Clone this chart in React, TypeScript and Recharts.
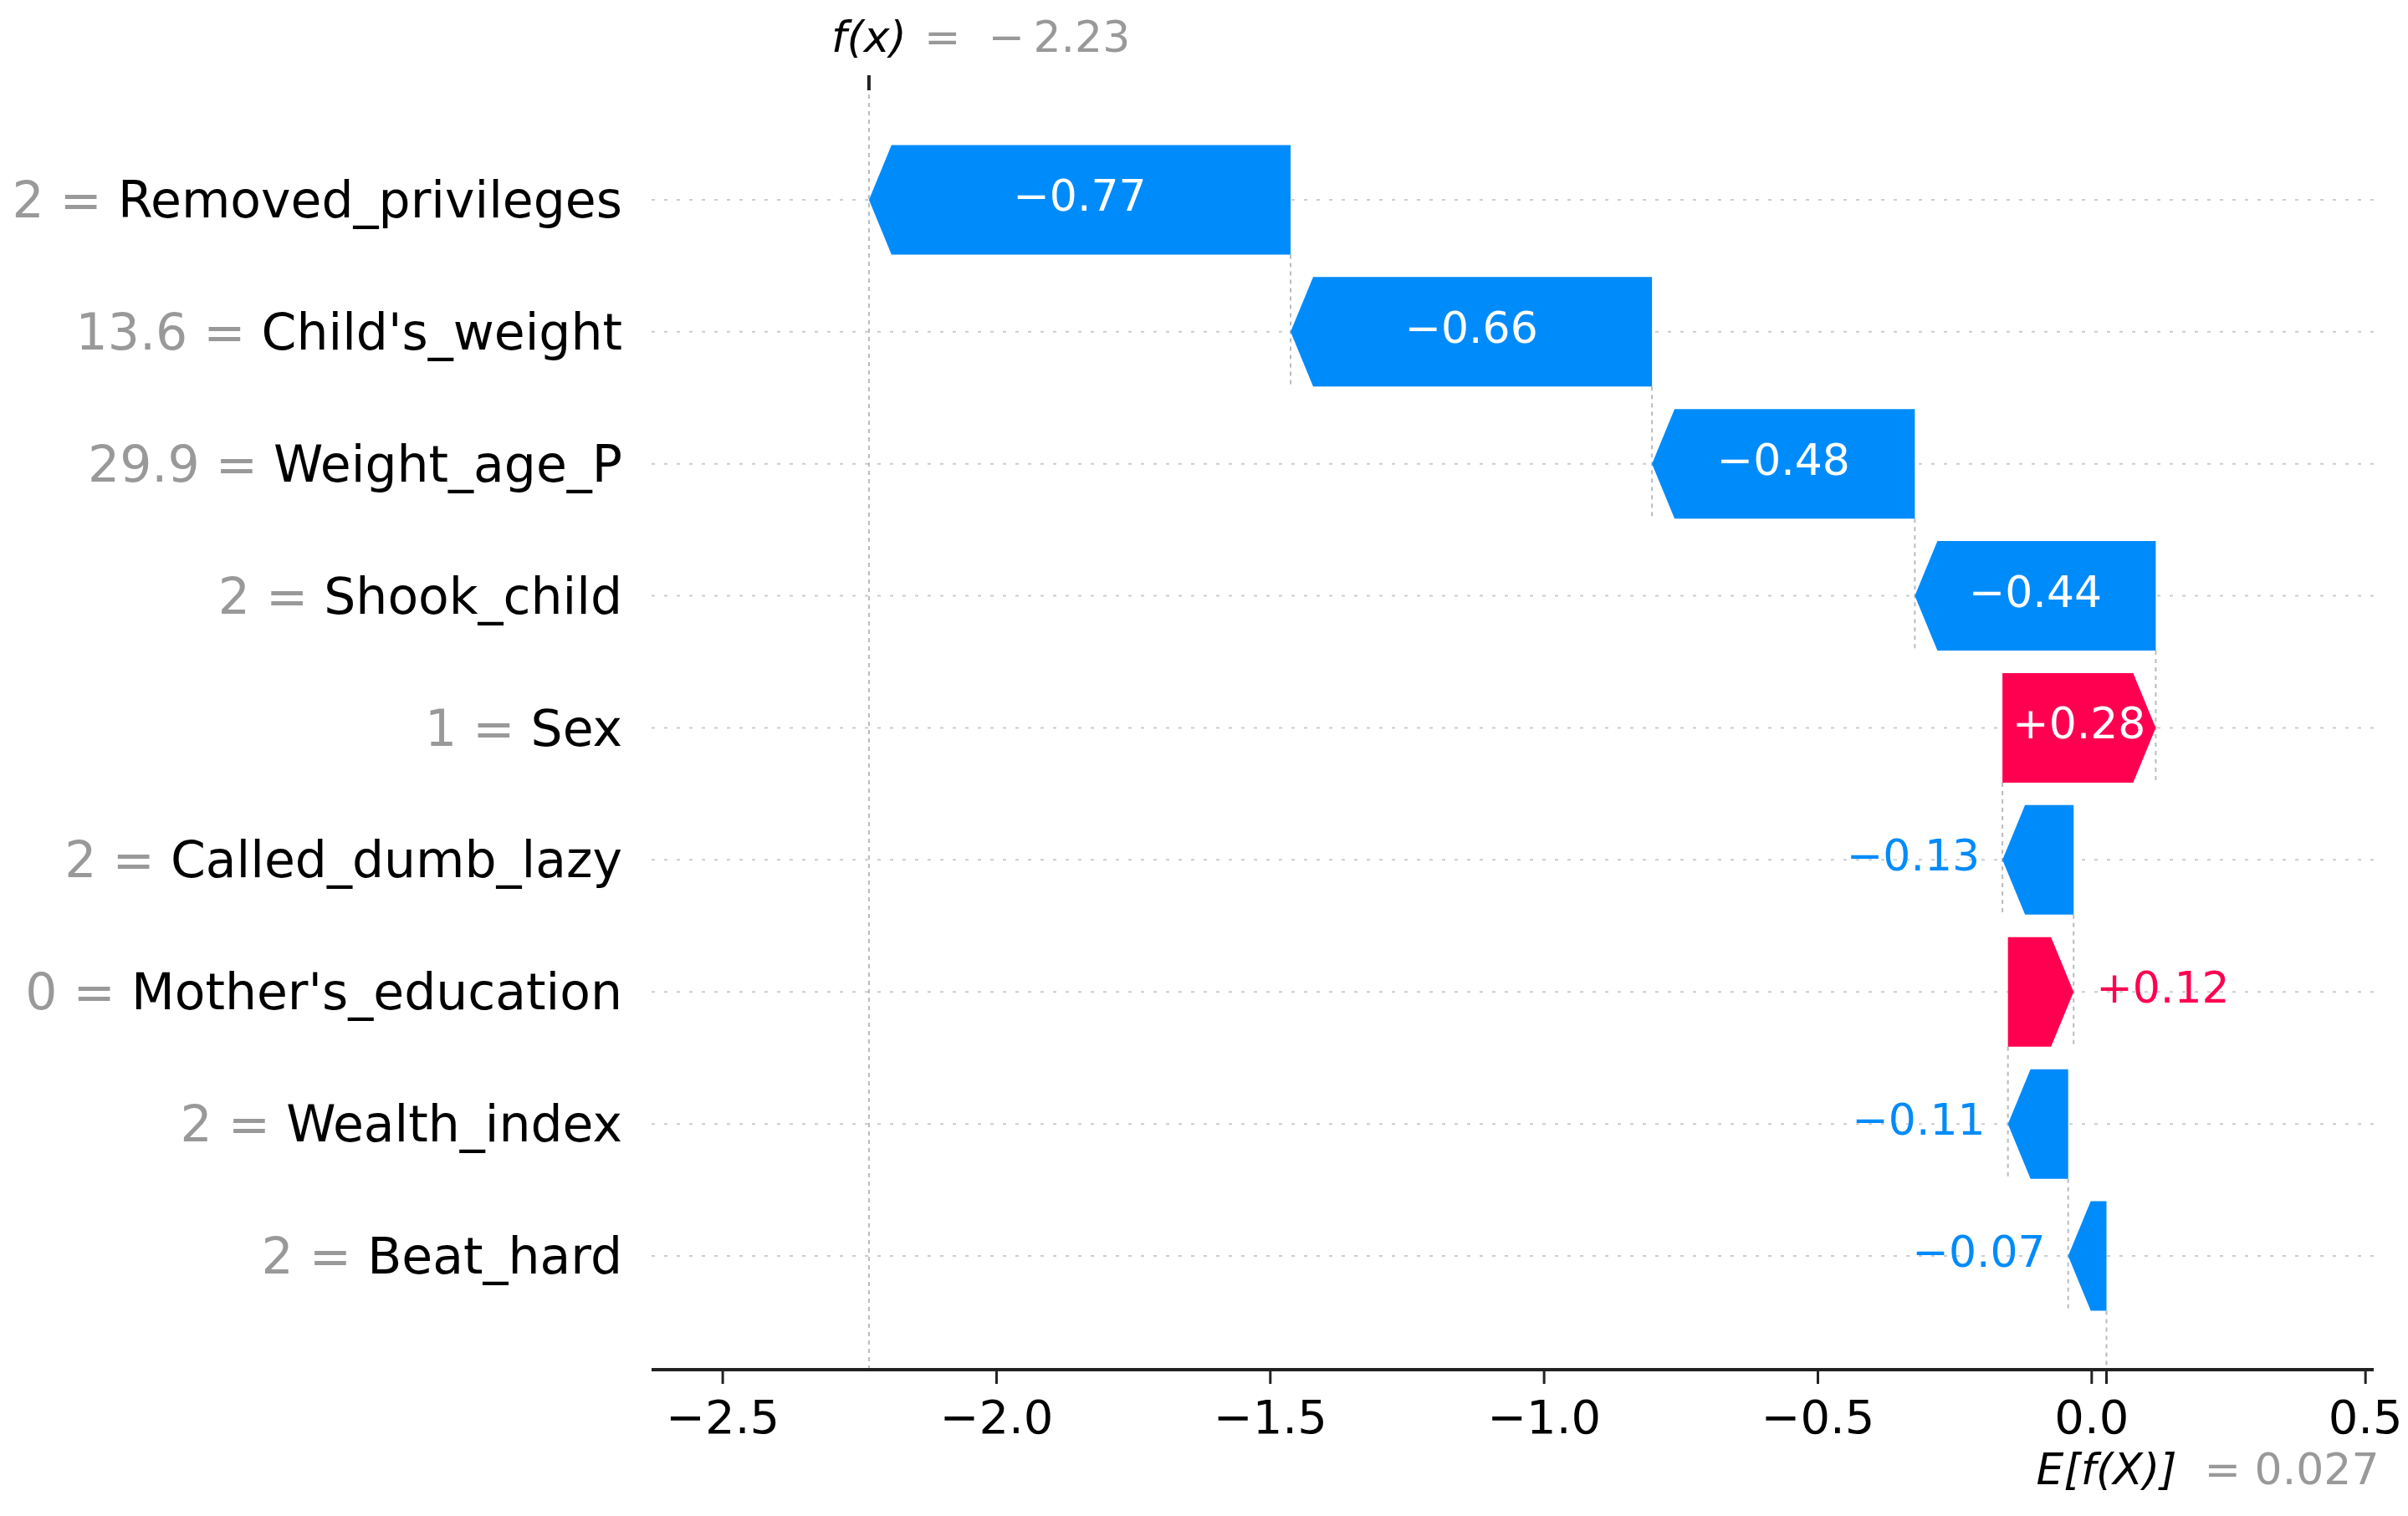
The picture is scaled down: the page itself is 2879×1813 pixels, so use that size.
import React from 'react';
import { ComposedChart, Bar, XAxis, YAxis, ReferenceLine } from 'recharts';

// SHAP waterfall: features listed top to bottom
const features = [
  'Removed_privileges',
  "Child's_weight",
  'Weight_age_P',
  'Shook_child',
  'Sex',
  'Called_dumb_lazy',
  "Mother's_education",
  'Wealth_index',
  'Beat_hard',
];
const featureValues = ['2', '13.6', '29.9', '2', '1', '2', '0', '2', '2'];
const shapValues = [-0.77, -0.66, -0.48, -0.44, 0.28, -0.13, 0.12, -0.11, -0.07];
const baseValue = 0.027;
const fxValue = -2.23;
const xTicks = [-2.5, -2.0, -1.5, -1.0, -0.5, 0.0, 0.5];

const BLUE = '#008bfb';
const RED = '#ff0051';
const FONT = '"DejaVu Sans", sans-serif';
const HEAD = 27;
const BAR_FRAC = 0.83;
const PAD_TOP = 52;
const PAD_BOTTOM = 57;
const VALUE_FONT = 52;

const minus = (s: string) => s.replace('-', '\u2212');

// cumulative positions, accumulated from the bottom row (base value) upwards
const rows = (() => {
  const out: any[] = new Array(features.length);
  let acc = baseValue;
  for (let i = features.length - 1; i >= 0; i--) {
    const start = acc;
    const end = acc + shapValues[i];
    out[i] = {
      name: features[i],
      label: featureValues[i],
      value: shapValues[i],
      start,
      end,
      range: [Math.min(start, end), Math.max(start, end)],
      last: i === features.length - 1,
    };
    acc = end;
  }
  return out;
})();

const YTick = (props: any) => {
  const { x, y, payload } = props;
  const row = rows.find((r) => r.name === payload.value);
  return (
    <text x={x} y={y + 21} textAnchor="end" fontFamily={FONT} fontSize={60} style={{ whiteSpace: 'pre' }}>
      <tspan fill="#999999">{`${row ? row.label : ''} = `}</tspan>
      <tspan fill="#000000">{payload.value}</tspan>
    </text>
  );
};

const XTick = (props: any) => {
  const { x, y, payload } = props;
  return (
    <text x={x} y={y + 59} textAnchor="middle" fontFamily={FONT} fontSize={56} fill="#000000">
      {minus(Number(payload.value).toFixed(1))}
    </text>
  );
};

const Arrow = (props: any) => {
  const { x, y, width, height, payload, background } = props;
  if (width == null || height == null) return null;
  const pos = payload.value > 0;
  const color = pos ? RED : BLUE;
  const head = Math.min(HEAD, width);
  const cy = y + height / 2;
  const pts = pos
    ? [[x, y], [x + width - head, y], [x + width, cy], [x + width - head, y + height], [x, y + height]]
    : [[x + width, y], [x + head, y], [x, cy], [x + head, y + height], [x + width, y + height]];
  const band = height / BAR_FRAC;
  const sx = pos ? x : x + width;
  const lineEnd = payload.last
    ? y + height + (band - height) / 2 + PAD_BOTTOM
    : y + height + band;

  const text = (pos ? '+' : '') + minus(payload.value.toFixed(2));
  const textW = text.length * 0.62 * VALUE_FONT;
  const inside = textW < width;
  let tx = x + width / 2;
  let anchor: any = 'middle';
  if (!inside) {
    tx = pos ? x + width + 27 : x - 27;
    anchor = pos ? 'start' : 'end';
  }
  return (
    <g>
      {background && (
        <line
          x1={background.x}
          x2={background.x + background.width}
          y1={cy}
          y2={cy}
          stroke="#cccccc"
          strokeWidth={2}
          strokeDasharray="4 11"
        />
      )}
      <line x1={sx} x2={sx} y1={y + height} y2={lineEnd} stroke="#bbbbbb" strokeWidth={2} strokeDasharray="5 5" />
      <polygon points={pts.map((p) => p.join(',')).join(' ')} fill={color} />
      <text
        x={tx}
        y={cy + 13}
        textAnchor={anchor}
        fontFamily={FONT}
        fontSize={VALUE_FONT}
        fill={inside ? '#ffffff' : color}
      >
        {text}
      </text>
    </g>
  );
};

const FxLabel = (props: any) => {
  const vb = props.viewBox || {};
  const x = vb.x;
  const top = vb.y;
  return (
    <g>
      <line x1={x} x2={x} y1={top - 18} y2={top} stroke="#222222" strokeWidth={4} />
      <text x={x} y={top - 46} textAnchor="middle" fontFamily={FONT} fontStyle="italic" fontSize={52} fill="#000000">
        f(x)
      </text>
      <text x={x + 66} y={top - 46} fontFamily={FONT} fontSize={52} fill="#999999" style={{ whiteSpace: 'pre' }}>
        {`=  ${minus('-')}\u2009${fxValue.toFixed(2).replace('-', '')}`}
      </text>
    </g>
  );
};

const BaseLabel = (props: any) => {
  const vb = props.viewBox || {};
  const x = vb.x;
  const bottom = vb.y + vb.height;
  return (
    <g>
      <line x1={x} x2={x} y1={bottom} y2={bottom + 17} stroke="#222222" strokeWidth={3} />
      <text x={x} y={bottom + 137} textAnchor="middle" fontFamily={FONT} fontStyle="italic" fontSize={52} fill="#000000">
        E[f(X)]
      </text>
      <text x={x + 117} y={bottom + 137} fontFamily={FONT} fontSize={52} fill="#999999" style={{ whiteSpace: 'pre' }}>
        {`= ${baseValue.toFixed(3)}`}
      </text>
    </g>
  );
};

export default function App() {
  return (
    <div style={{ position: 'absolute', left: 0, top: 0, background: '#ffffff' }}>
      <ComposedChart
        layout="vertical"
        width={2879}
        height={1813}
        data={rows}
        margin={{ top: 108, right: 41, bottom: 75, left: 0 }}
        barCategoryGap="8.5%"
      >
        <XAxis
          type="number"
          domain={[-2.63, 0.515]}
          allowDataOverflow
          ticks={xTicks}
          interval={0}
          height={100}
          tickSize={17}
          tickMargin={0}
          tick={<XTick />}
          axisLine={{ stroke: '#222222', strokeWidth: 4 }}
          tickLine={{ stroke: '#222222', strokeWidth: 3 }}
        />
        <YAxis
          type="category"
          dataKey="name"
          width={779}
          padding={{ top: PAD_TOP, bottom: PAD_BOTTOM }}
          interval={0}
          axisLine={false}
          tickLine={false}
          tickSize={0}
          tickMargin={35}
          tick={<YTick />}
        />
        <ReferenceLine x={rows[0].end} stroke="#bbbbbb" strokeWidth={2} strokeDasharray="5 5" label={<FxLabel />} />
        <ReferenceLine x={baseValue} stroke="none" label={<BaseLabel />} />
        <Bar dataKey="range" isAnimationActive={false} shape={<Arrow />} />
      </ComposedChart>
    </div>
  );
}
